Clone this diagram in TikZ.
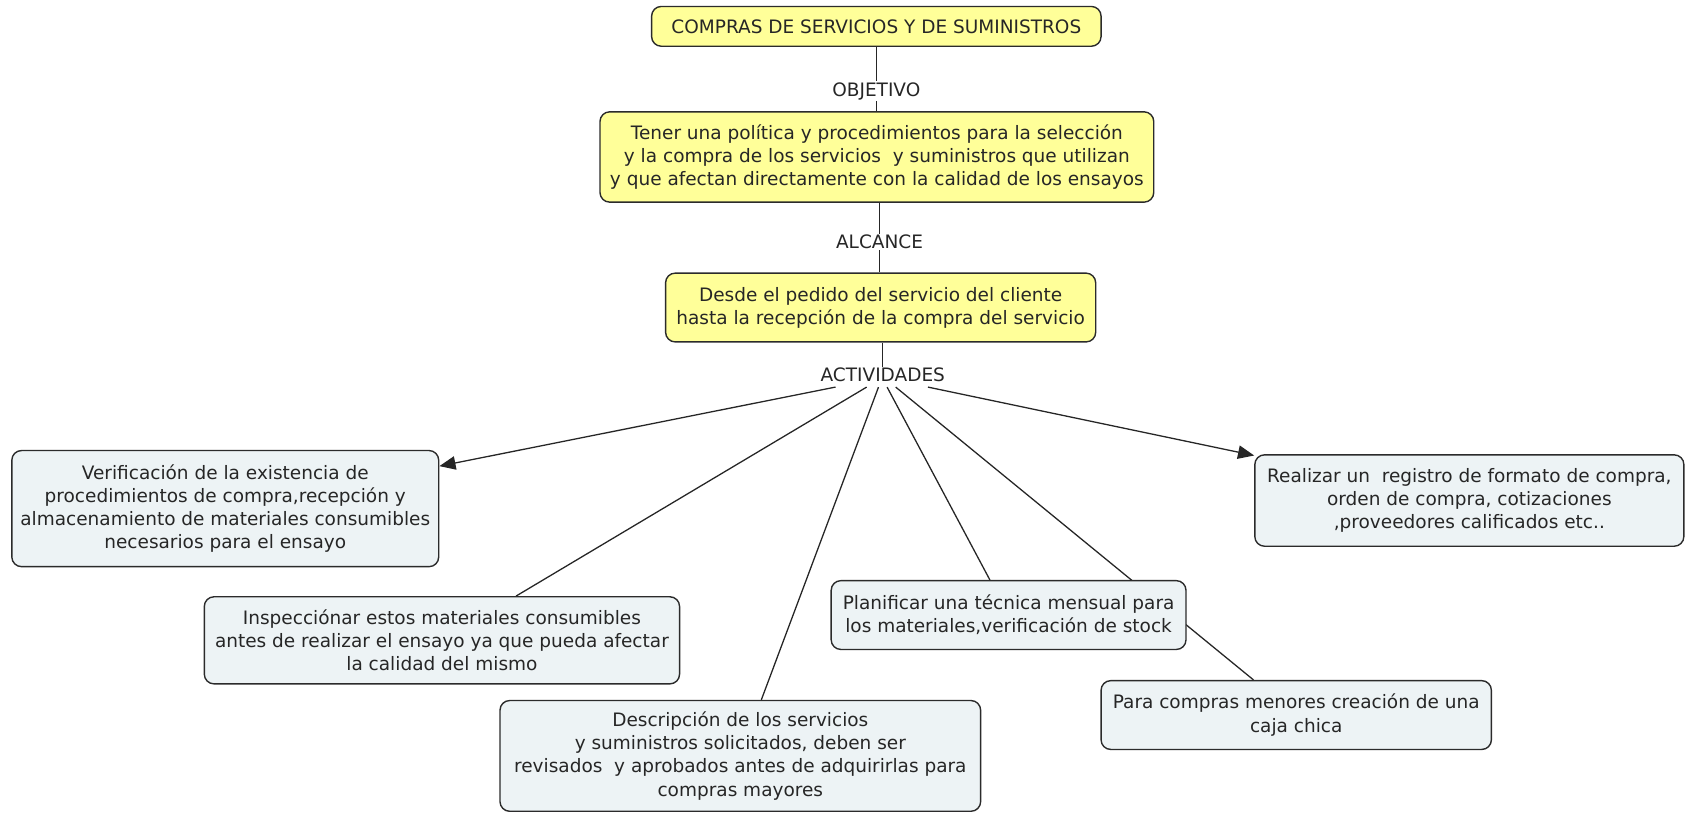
\documentclass[tikz,border=0pt]{standalone}
\usepackage{fontspec}
\setmainfont{DejaVu Sans}
\usetikzlibrary{arrows.meta,backgrounds}
\definecolor{yfill}{HTML}{FFFF99}
\definecolor{bfill}{HTML}{EDF3F5}
\definecolor{edge}{HTML}{2B2B2B}
\tikzset{
  basebox/.style={draw=edge, line width=1.3pt, rounded corners=9pt, align=center, inner sep=0pt,
    font=\fontsize{17.2}{21.5}\selectfont, text=black!85},
  ybox/.style={basebox, fill=yfill},
  bbox/.style={basebox, fill=bfill},
  lbl/.style={inner sep=1pt, font=\fontsize{17.2}{21.5}\selectfont, text=black!85},
  conn/.style={draw=black!85, line width=1.2pt},
  arr/.style={conn, -{Triangle[length=15pt,width=12.5pt]}}
}
\begin{document}
\begin{tikzpicture}[x=1pt,y=-1pt]
\useasboundingbox (0,0) rectangle (1568,757);
\node[ybox, minimum width=418, minimum height=37] (top) at (815,24.5) {COMPRAS DE SERVICIOS Y DE SUMINISTROS};
\node[lbl] (obj) at (815,85) {OBJETIVO};
\node[ybox, minimum width=515, minimum height=84] (pol) at (815.5,146) {Tener una política y procedimientos para la selección\\y la compra de los servicios \ y suministros que utilizan\\y que afectan directamente con la calidad de los ensayos};
\node[lbl] (alc) at (818,225) {ALCANCE};
\node[ybox, minimum width=400, minimum height=64] (desde) at (819,286) {Desde el pedido del servicio del cliente\\hasta la recepción de la compra del servicio};
\node[lbl] (act) at (821,349) {ACTIVIDADES};
\node[bbox, minimum width=397, minimum height=108] (A) at (209.5,473) {Verificación de la existencia de\\procedimientos de compra,recepción y\\almacenamiento de materiales consumibles\\necesarios para el ensayo};
\node[bbox, minimum width=442, minimum height=81] (B) at (411,595.5) {Inspecciónar estos materiales consumibles\\antes de realizar el ensayo ya que pueda afectar\\la calidad del mismo};
\node[bbox, minimum width=447, minimum height=103] (C) at (688.5,703) {Descripción de los servicios\\y suministros solicitados, deben ser\\revisados \ y aprobados antes de adquirirlas para\\compras mayores};
\node[bbox, minimum width=330, minimum height=64] (D) at (938,572) {Planificar una técnica mensual para\\los materiales,verificación de stock};
\node[bbox, minimum width=363, minimum height=64] (E) at (1205.5,665) {Para compras menores creación de una\\caja chica};
\node[bbox, minimum width=399, minimum height=85] (F) at (1366.5,465.5) {Realizar un \ registro de formato de compra,\\orden de compra, cotizaciones\\,proveedores calificados etc..};
\coordinate (a1) at (777,360);
\coordinate (a2) at (806,360);
\coordinate (a3) at (817,360);
\coordinate (a4) at (825,360);
\coordinate (a5) at (833,360);
\coordinate (a6) at (863,360);
\begin{scope}[on background layer]
\draw[conn] (top) -- (obj);
\draw[conn] (obj) -- (obj |- pol.north);
\draw[conn] (alc |- pol.south) -- (alc);
\draw[conn] (alc) -- (alc |- desde.north);
\draw[conn] (act |- desde.south) -- (act);
\draw[arr] (a1) -- (A);
\draw[conn] (a2) -- (B);
\draw[conn] (a3) -- (C);
\draw[conn] (a4) -- (D);
\draw[conn] (a5) -- (E);
\draw[arr] (a6) -- (F);
\end{scope}
\end{tikzpicture}
\end{document}
